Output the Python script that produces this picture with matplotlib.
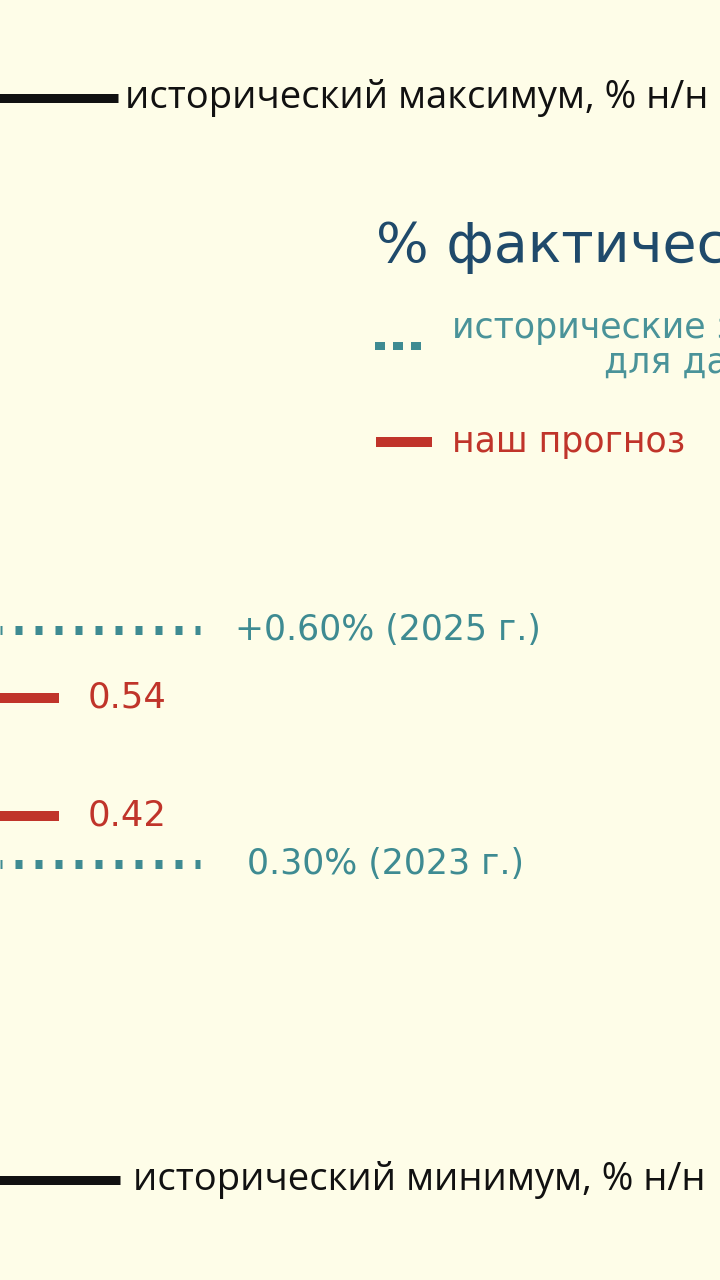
import numpy as np
import matplotlib
matplotlib.use("Agg")
import matplotlib.pyplot as plt

# ---- data ----
hist_values = [0.60, 0.30]                      # historical values for the week
hist_labels = ["+0.60% (2025 г.)", "0.30% (2023 г.)"]
forecast_values = [0.54, 0.42]                  # our forecast
forecast_labels = ["0.54", "0.42"]
max_label = "исторический максимум, % н/н"
min_label = "исторический минимум, % н/н"
title_text = "% фактическая инфляция"
legend_hist = ["исторические значения", "для данной недели"]
legend_fc = "наш прогноз"

# ---- style ----
BG = "#fefde8"
BLACK = "#111111"
TEAL = "#3e8b92"
TEAL_TXT = "#4a9399"
RED = "#c0342a"
NAVY = "#1f4a6b"
PX = 0.72  # points per pixel at dpi 100
FONT_A = ["Open Sans", "DejaVu Sans"]
FONT_B = ["DejaVu Sans"]
plt.rcParams["font.family"] = FONT_B

fig = plt.figure(figsize=(7.2, 12.8), dpi=100, facecolor=BG)
ax = fig.add_axes([0, 0, 1, 1])
ax.set_facecolor(BG)
ax.axis("off")
ax.set_xlim(0, 720)

# infographic (non-proportional) vertical scale
scale_vals = [0.0, 0.30, 0.42, 0.54, 0.60, 1.0]
scale_pos = [0.0, 0.325, 0.3625, 0.4547, 0.5078, 1.0]
fwd = lambda v: np.interp(v, scale_vals, scale_pos)
inv = lambda f: np.interp(f, scale_pos, scale_vals)
ax.set_yscale("function", functions=(fwd, inv))
ax.set_ylim(0.0, 1.0)

xt = ax.get_xaxis_transform()  # x data, y axes

# historical max / min lines
ax.plot([-10, 118], [0.9234, 0.9234], transform=xt, color=BLACK,
        lw=9 * PX, solid_capstyle="butt")
ax.text(125, 0.9234, max_label, transform=xt, color=BLACK, fontsize=27.5,
        va="center", ha="left", family=FONT_A)
ax.plot([-10, 120], [0.0781, 0.0781], transform=xt, color=BLACK,
        lw=9 * PX, solid_capstyle="butt")
ax.text(133, 0.0781, min_label, transform=xt, color=BLACK, fontsize=27.5,
        va="center", ha="left", family=FONT_A)

# historical values (dotted)
hist_lx = [235, 247]
for v, lab, lx in zip(hist_values, hist_labels, hist_lx):
    ax.plot([0, 200], [v, v], color=TEAL, lw=9 * PX,
            linestyle=(5 / 9, (7 / 9, 13 / 9)), dash_capstyle="butt")
    ax.text(lx, v, lab, color=TEAL, fontsize=25, va="center", ha="left")

# forecast (red)
for v, lab in zip(forecast_values, forecast_labels):
    ax.plot([-10, 59], [v, v], color=RED, lw=10 * PX, solid_capstyle="butt")
    ax.text(88, v, lab, color=RED, fontsize=25.5, va="center", ha="left")

# title
ax.text(376, 1 - 247 / 1280, title_text, transform=xt, color=NAVY,
        fontsize=40, va="center", ha="left")

# legend
ax.plot([375, 425], [1 - 346 / 1280] * 2, transform=xt, color=TEAL,
        lw=8 * PX, linestyle=(0, (10 / 8, 8 / 8)), dash_capstyle="butt")
ax.text(452, 1 - 328 / 1280, legend_hist[0], transform=xt, color=TEAL_TXT,
        fontsize=25, va="center", ha="left")
ax.text(604, 1 - 363 / 1280, legend_hist[1], transform=xt, color=TEAL_TXT,
        fontsize=25, va="center", ha="left")
ax.plot([376, 432], [1 - 442 / 1280] * 2, transform=xt, color=RED,
        lw=10 * PX, solid_capstyle="butt")
ax.text(452, 1 - 442 / 1280, legend_fc, transform=xt, color=RED,
        fontsize=25, va="center", ha="left")

fig.savefig("out.png", dpi=100, facecolor=BG)
